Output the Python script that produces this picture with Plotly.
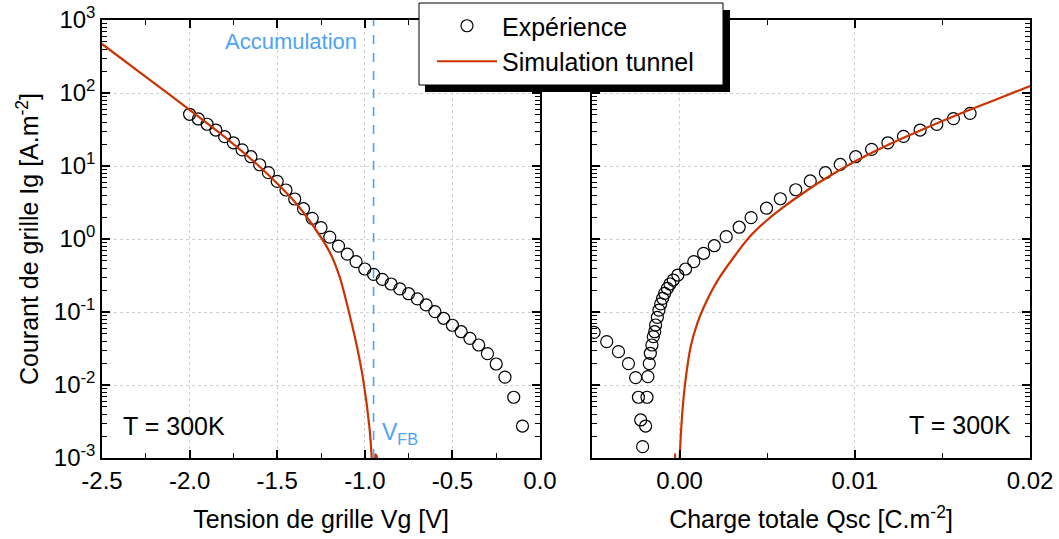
import plotly.graph_objects as go

# ---------------- data ----------------
vg_exp = [-2.00, -1.95, -1.90, -1.85, -1.80, -1.75, -1.70, -1.65, -1.60, -1.55,
          -1.50, -1.45, -1.40, -1.35, -1.30, -1.25, -1.20, -1.15, -1.10, -1.05,
          -1.00, -0.95, -0.90, -0.85, -0.80, -0.75, -0.70, -0.65, -0.60, -0.55,
          -0.50, -0.45, -0.40, -0.35, -0.30, -0.25, -0.20, -0.15, -0.10]
ig_exp = [51.1, 44.1, 37.3, 31.1, 25.2, 20.8, 16.6, 13.4, 10.4, 8.1,
          6.17, 4.69, 3.53, 2.60, 1.92, 1.43, 1.06, 0.80, 0.62, 0.489,
          0.388, 0.328, 0.280, 0.242, 0.207, 0.178, 0.151, 0.125, 0.101, 0.082,
          0.0658, 0.0537, 0.0436, 0.0353, 0.0269, 0.0194, 0.0128, 0.00679, 0.00274]

vg_sim = [-2.5, -2.25, -2.0, -1.8, -1.6, -1.5, -1.4, -1.3, -1.2, -1.142,
          -1.103, -1.046, -1.009, -0.974, -0.961, -0.955, -0.950, -0.940, -0.932, -0.925]
ig_sim = [469, 166, 58.9, 25.1, 9.77, 5.75, 3.24, 1.58, 0.661, 0.295,
          0.132, 0.0347, 0.01175, 0.00269, 0.00105, 0.0005, 0.0005, 0.00112, 0.00105, 0.0005]

qsc_exp = [-0.00488, -0.00416, -0.00349, -0.00292, -0.00251, -0.00235, -0.00222, -0.00211,
           -0.00194, -0.00186, -0.00181, -0.00173, -0.00167, -0.00158, -0.00150, -0.00142,
           -0.00137, -0.00127, -0.00118, -0.00108, -0.00097, -0.00085, -0.00070, -0.00055,
           -0.00036, -0.00010, 0.00034, 0.00081, 0.00137, 0.00198, 0.00266, 0.00340,
           0.00408, 0.00496, 0.00575, 0.00663, 0.00746, 0.00832, 0.00917, 0.01005,
           0.01096, 0.01189, 0.01278, 0.01373, 0.01468, 0.01563, 0.01658]
ig_exp_q = [0.0527, 0.0392, 0.0286, 0.0196, 0.0126, 0.00679, 0.00332, 0.00143,
            0.00274, 0.00679, 0.0130, 0.0196, 0.0272, 0.0353, 0.0459, 0.0537,
            0.0664, 0.0845, 0.106, 0.129, 0.154, 0.180, 0.211, 0.242,
            0.274, 0.321, 0.388, 0.489, 0.637, 0.809, 1.08, 1.45,
            1.96, 2.64, 3.56, 4.73, 6.24, 8.09, 10.5, 13.4,
            16.9, 20.8, 25.5, 31.1, 37.2, 44.5, 52.7]

qsc_sim = [-0.00030, -0.00026, -0.00018, -0.00003, 0.00000, 0.00015, 0.00034, 0.00063,
           0.00101, 0.00139, 0.00214, 0.00309, 0.00400, 0.00500, 0.00600, 0.00700,
           0.00800, 0.00900, 0.01000, 0.01200, 0.01400, 0.01600, 0.01800, 0.02000]
ig_sim_q = [0.0005, 0.00115, 0.0005, 0.0006, 0.000955, 0.00407, 0.01175, 0.0335,
            0.0700, 0.118, 0.263, 0.562, 1.072, 1.82, 2.82, 4.17,
            6.03, 8.41, 11.5, 20.0, 32.7, 51.9, 80.4, 124.7]

v_fb = -0.95

x1_ticks = [-2.5, -2.0, -1.5, -1.0, -0.5, 0.0]
x1_labels = ["-2.5", "-2.0", "-1.5", "-1.0", "-0.5", "0.0"]
x2_ticks = [0.0, 0.01, 0.02]
x2_labels = ["0.00", "0.01", "0.02"]
y_exps = [-3, -2, -1, 0, 1, 2, 3]
y_labels = ["10<sup>-3</sup>", "10<sup>-2</sup>", "10<sup>-1</sup>", "10<sup>0</sup>",
            "10<sup>1</sup>", "10<sup>2</sup>", "10<sup>3</sup>"]

# ---------------- styling ----------------
FONT = "Liberation Sans, Arial, sans-serif"
RED = "#CC3300"
BLUE = "#4DA3F5"
GRID = "#CFCFCF"

y_ticks = [10.0 ** e for e in y_exps]
y_minor = [k * 10.0 ** e for e in y_exps[:-1] for k in range(2, 10)]

fig = go.Figure()
fig.add_trace(go.Scatter(x=vg_exp, y=ig_exp, mode="markers", name="Expérience",
                         marker=dict(symbol="circle-open", size=12, color="black",
                                     line=dict(width=1.2, color="black")),
                         xaxis="x", yaxis="y"))
fig.add_trace(go.Scatter(x=vg_sim, y=ig_sim, mode="lines", name="Simulation tunnel",
                         line=dict(color=RED, width=2.2, shape="spline", smoothing=0.6),
                         xaxis="x", yaxis="y"))
fig.add_trace(go.Scatter(x=qsc_exp, y=ig_exp_q, mode="markers", showlegend=False,
                         marker=dict(symbol="circle-open", size=12, color="black",
                                     line=dict(width=1.2, color="black")),
                         xaxis="x2", yaxis="y2"))
fig.add_trace(go.Scatter(x=qsc_sim, y=ig_sim_q, mode="lines", showlegend=False,
                         line=dict(color=RED, width=2.2, shape="spline", smoothing=0.6),
                         xaxis="x2", yaxis="y2"))

common_axis = dict(showline=True, linecolor="black", linewidth=1.5, mirror="ticks",
                   ticks="inside", ticklen=8, tickwidth=1.5, tickcolor="black",
                   showgrid=True, gridcolor=GRID, gridwidth=1, griddash="dot",
                   zeroline=False, automargin=False, ticklabeloverflow="allow",
                   tickfont=dict(family=FONT, size=24, color="black"))

fig.update_layout(
    width=1059, height=539,
    margin=dict(l=102, r=29, t=20, b=81, autoexpand=False),
    paper_bgcolor="white", plot_bgcolor="white",
    font=dict(family=FONT, color="black"),
    xaxis=dict(domain=[0, 438 / 928], range=[-2.5, 0.0], tickmode="array",
               tickvals=x1_ticks, ticktext=x1_labels,
               minor=dict(ticks="inside", ticklen=5, tickwidth=1.2, tickcolor="black",
                          dtick=0.25, tick0=-2.5, showgrid=False),
               title=dict(text="Tension de grille Vg [V]", font=dict(family=FONT, size=25),
                          standoff=18),
               anchor="y", **common_axis),
    yaxis=dict(type="log", range=[-3, 3], tickmode="array", tickvals=y_ticks,
               ticktext=y_labels,
               minor=dict(ticks="inside", ticklen=5, tickwidth=1.2, tickcolor="black",
                          tickmode="array", tickvals=y_minor, showgrid=False),
               title=dict(text="Courant de grille Ig [A.m<sup>-2</sup>]",
                          font=dict(family=FONT, size=25), standoff=8),
               anchor="x", **common_axis),
    xaxis2=dict(domain=[490 / 928, 1], range=[-0.005, 0.02], tickmode="array",
                tickvals=x2_ticks, ticktext=x2_labels,
                minor=dict(ticks="inside", ticklen=5, tickwidth=1.2, tickcolor="black",
                           dtick=0.005, tick0=0.0, showgrid=False),
                title=dict(text="Charge totale Qsc [C.m<sup>-2</sup>]",
                           font=dict(family=FONT, size=25), standoff=18),
                anchor="y2", **common_axis),
    yaxis2=dict(type="log", range=[-3, 3], tickmode="array", tickvals=y_ticks,
                showticklabels=False,
                minor=dict(ticks="inside", ticklen=5, tickwidth=1.2, tickcolor="black",
                           tickmode="array", tickvals=y_minor, showgrid=False),
                anchor="x2", **common_axis),
    legend=dict(x=(432 - 102) / 928, y=(458 - 3) / 438, xanchor="left", yanchor="top",
                bgcolor="rgba(0,0,0,0)", borderwidth=0, itemwidth=60,
                font=dict(family=FONT, size=25, color="black"), tracegroupgap=0),
    showlegend=True,
)

# legend frame with drop shadow
fig.add_shape(type="rect", xref="paper", yref="paper",
              x0=(425 - 102) / 928, x1=(730 - 102) / 928,
              y0=(458 - 92) / 438, y1=(458 - 10) / 438,
              fillcolor="black", line=dict(width=0), layer="above")
fig.add_shape(type="rect", xref="paper", yref="paper",
              x0=(419 - 102) / 928, x1=(723 - 102) / 928,
              y0=(458 - 85) / 438, y1=(458 - 3) / 438,
              fillcolor="white", line=dict(color="black", width=1), layer="above")

# flat-band voltage marker
fig.add_shape(type="line", xref="x", yref="y domain", x0=v_fb, x1=v_fb, y0=0, y1=1,
              line=dict(color=BLUE, width=1.6, dash="dash"), layer="above")

fig.add_annotation(x=-1.421, y=2.712, xref="x", yref="y", text="Accumulation",
                   showarrow=False, font=dict(family=FONT, size=22, color=BLUE))
fig.add_annotation(x=-0.912, y=-2.66, xref="x", yref="y", text="V<sub>FB</sub>",
                   xanchor="left", showarrow=False,
                   font=dict(family=FONT, size=23, color=BLUE))
fig.add_annotation(x=-2.392, y=-2.56, xref="x", yref="y", text="T = 300K",
                   xanchor="left", showarrow=False,
                   font=dict(family=FONT, size=25, color="black"))
fig.add_annotation(x=0.01905, y=-2.55, xref="x2", yref="y2", text="T = 300K",
                   xanchor="right", showarrow=False,
                   font=dict(family=FONT, size=25, color="black"))

# remove the default 8px page margin so the 1059x539 figure fills the window exactly
fig.write_html("out.html", config={"displayModeBar": False},
               post_script="document.body.style.margin='0px';")
